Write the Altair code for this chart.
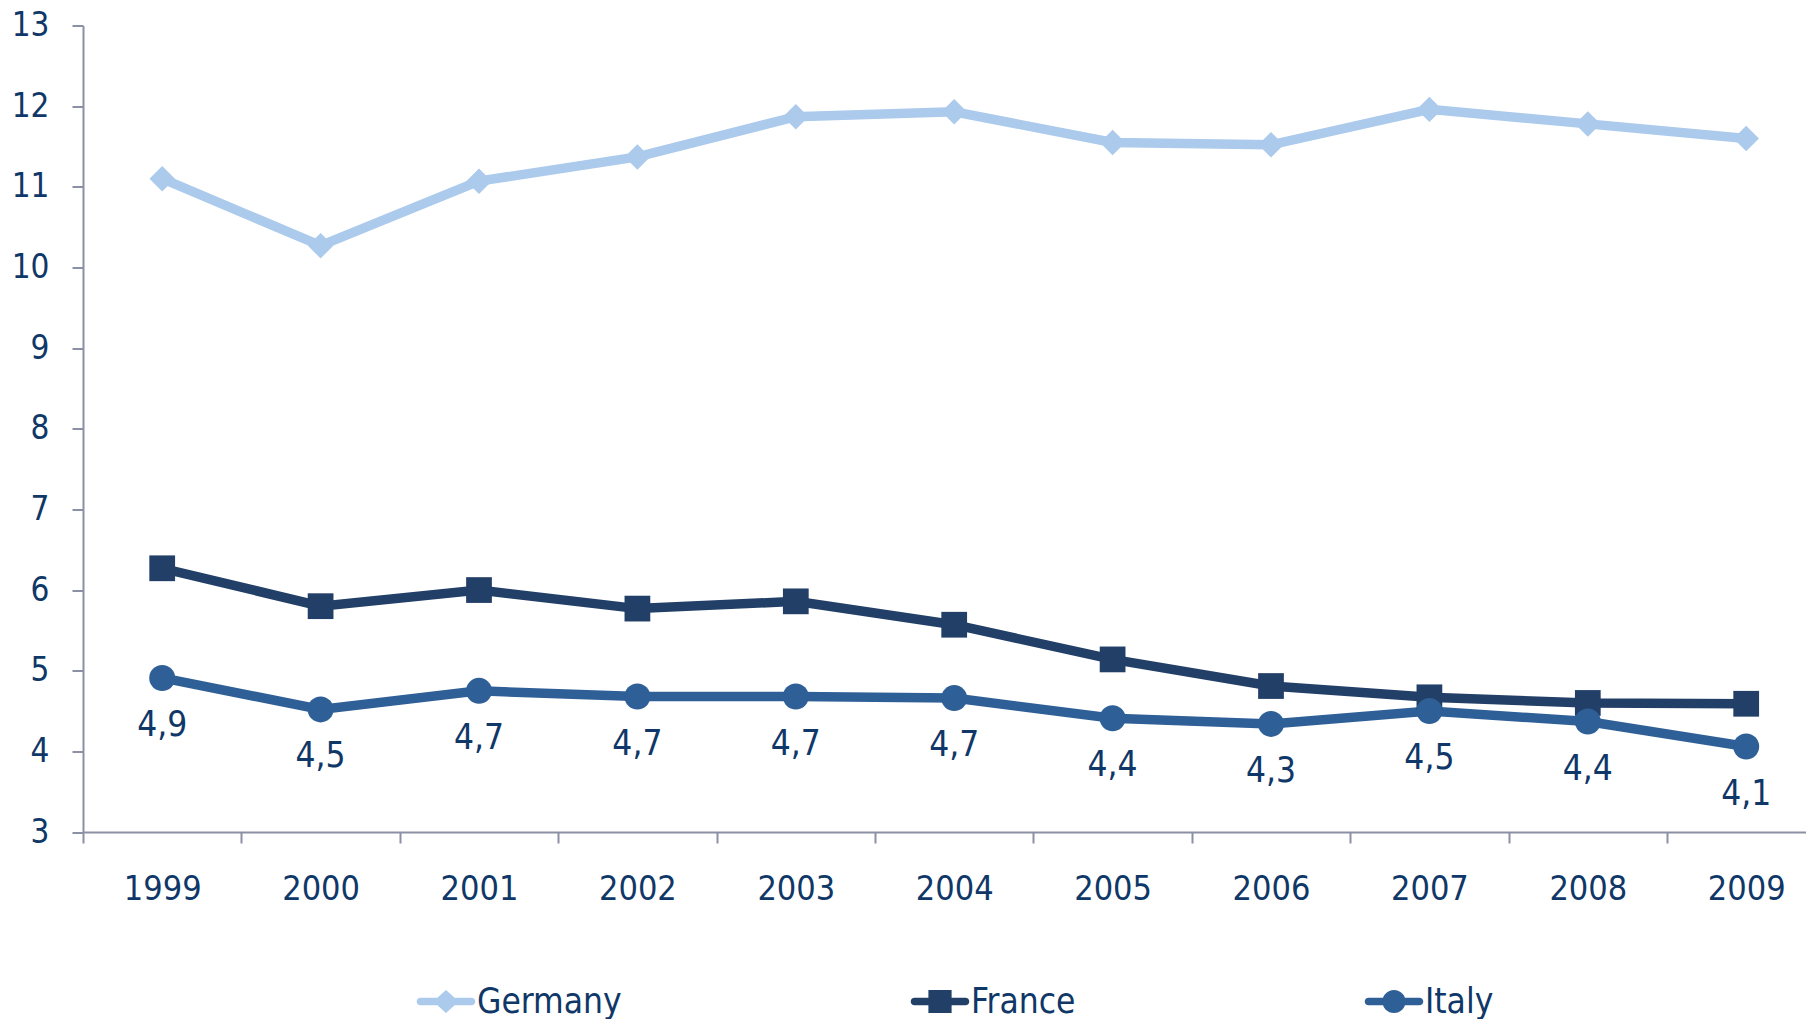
import altair as alt
import pandas as pd

years = [1999, 2000, 2001, 2002, 2003, 2004, 2005, 2006, 2007, 2008, 2009]
germany = [11.10, 10.27, 11.07, 11.37, 11.87, 11.93, 11.55, 11.52, 11.96, 11.78, 11.60]
france = [6.27, 5.80, 6.00, 5.77, 5.86, 5.57, 5.14, 4.81, 4.67, 4.60, 4.59]
italy = [4.91, 4.52, 4.75, 4.68, 4.68, 4.66, 4.41, 4.34, 4.50, 4.37, 4.06]
italy_labels = ["4,9", "4,5", "4,7", "4,7", "4,7", "4,7", "4,4", "4,3", "4,5", "4,4", "4,1"]

countries = ["Germany", "France", "Italy"]
colors = ["#abcaec", "#223f67", "#2f5f97"]
shapes = ["diamond", "square", "circle"]
sizes = [650, 676, 452]

FONT = "DejaVu Sans Condensed"
TEXT = "#0f3767"
AXIS = "#8b90a5"

rows = []
for name, vals in zip(countries, [germany, france, italy]):
    for y, v in zip(years, vals):
        rows.append({"year": y, "country": name, "value": v})
df = pd.DataFrame(rows)

lab = pd.DataFrame({"year": years, "value": italy, "label": italy_labels})

BAND = 158.4
W = 1723
x_dom = [1998.5, 1998.5 + W / BAND]

x = alt.X("year:Q", scale=alt.Scale(domain=x_dom, nice=False, zero=False),
          axis=alt.Axis(values=years, format="d", title=None, grid=False,
                        tickOffset=-BAND / 2, labelOffset=BAND / 2,
                        tickSize=11, tickColor=AXIS, domainColor=AXIS,
                        domainWidth=2, tickWidth=2,
                        labelFont=FONT, labelFontSize=34, labelColor=TEXT,
                        labelPadding=29, labelBaseline="top", labelFlush=False))
y = alt.Y("value:Q", scale=alt.Scale(domain=[3, 13], nice=False, zero=False),
          axis=alt.Axis(values=list(range(3, 14)), title=None, grid=False,
                        tickSize=11, tickColor=AXIS, domainColor=AXIS,
                        domainWidth=2, tickWidth=2,
                        labelFont=FONT, labelFontSize=33, labelColor=TEXT,
                        labelPadding=23))

color_nolegend = alt.Color("country:N", scale=alt.Scale(domain=countries, range=colors), legend=None)

lines = alt.Chart(df).mark_line(strokeWidth=9.5).encode(
    x=x, y=y, color=color_nolegend, detail="country:N")

points = alt.Chart(df).mark_point(filled=True, opacity=1).encode(
    x=x, y=y, color=color_nolegend,
    shape=alt.Shape("country:N", scale=alt.Scale(domain=countries, range=shapes), legend=None),
    size=alt.Size("country:N", scale=alt.Scale(domain=countries, range=sizes), legend=None))

text = alt.Chart(lab).mark_text(font=FONT, fontSize=35, color=TEXT, dy=47, baseline="middle").encode(
    x=x, y=y, text="label:N")

# legend symbols: line with marker (custom paths span -1..1 = sqrt(size))
bar = "M-0.88,-0.13 L0.88,-0.13 A0.13,0.13 0 0,1 0.88,0.13 L-0.88,0.13 A0.13,0.13 0 0,1 -0.88,-0.13 Z "
leg_shapes = [
    bar + "M0,-0.4 L0.44,0 L0,0.4 L-0.44,0 Z",
    bar + "M-0.4,-0.4 L0.4,-0.4 L0.4,0.4 L-0.4,0.4 Z",
    bar + "M0.4,0 A0.4,0.4 0 1,1 -0.4,0 A0.4,0.4 0 1,1 0.4,0 Z",
]
leg = alt.Legend(title=None, orient="none", direction="horizontal", legendX=334, legendY=947,
                 symbolSize=3364, labelFont=FONT, labelFontSize=35, labelColor=TEXT,
                 labelOffset=2, columnPadding=288, symbolStrokeWidth=0, labelLimit=400,
                 symbolOpacity=1)
legend_layer = alt.Chart(df).transform_filter("datum.value < 0").mark_point(filled=True).encode(
    x=x, y=y, size=alt.value(3364),
    color=alt.Color("country:N", scale=alt.Scale(domain=countries, range=colors), legend=leg),
    shape=alt.Shape("country:N", scale=alt.Scale(domain=countries, range=leg_shapes), legend=leg))

chart = alt.layer(lines, points, text, legend_layer).resolve_scale(
    shape="independent", color="independent"
).properties(
    width=W, height=806.5,
    autosize=alt.AutoSizeParams(type="none"),
    padding={"left": 75, "top": 17.5, "right": 0, "bottom": 200},
).configure_view(stroke=None)

chart.save("out.html", embed_options={"renderer": "svg", "actions": False})
